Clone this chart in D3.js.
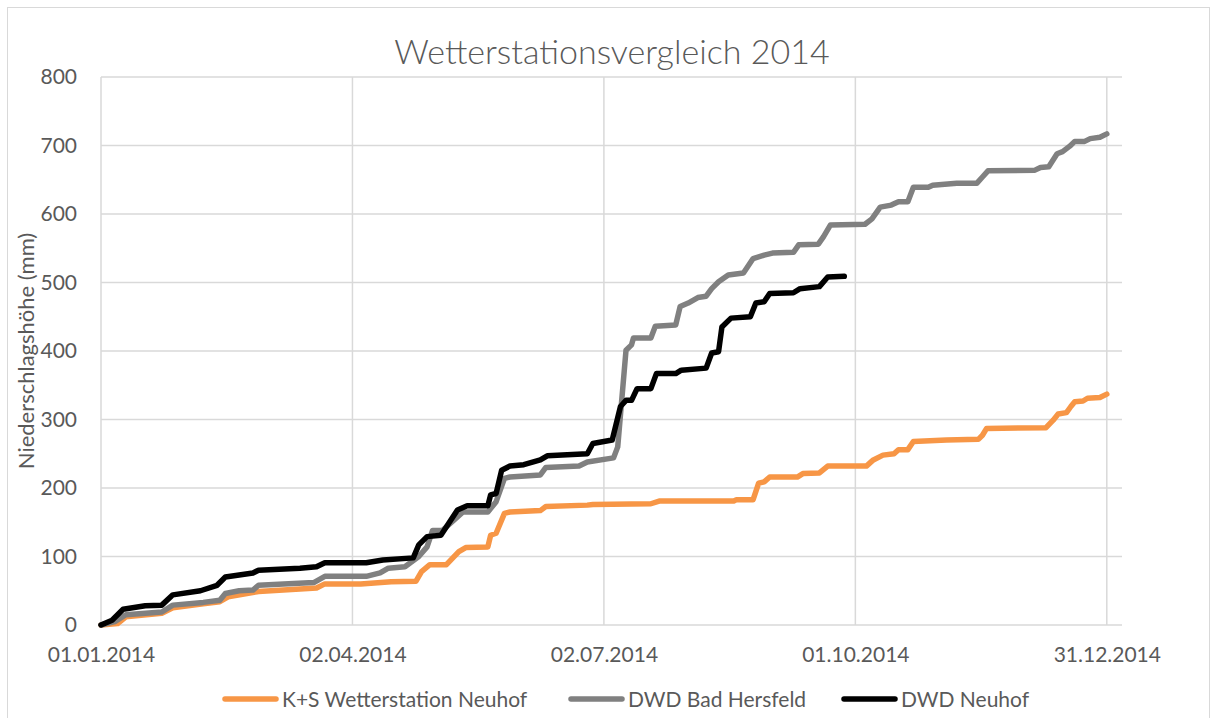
<!DOCTYPE html>
<html>
<head>
<meta charset="utf-8">
<script src="https://cdn.jsdelivr.net/npm/d3@7"></script>
<style>
  body { margin: 0; background: #fff; }
  text { font-family: Lato, "Open Sans", sans-serif; fill: #595959; }
</style>
</head>
<body>
<script>

// data: day offset from 01.01.2014, cumulative precipitation (mm)

const seriesNames = ["K+S Wetterstation Neuhof", "DWD Bad Hersfeld", "DWD Neuhof"];
const seriesColors = ["#f79646", "#808080", "#000000"];

const ksNeuhof = [[0,0],[6,2],[9,12],[22,17],[26,25],[37,31],[43,34],[46,41],[57,49],[78,54],[81,60],
  [94,60],[105,63],[114,64],[116,78],[119,88],[125,88],[129.5,107],[132,113],[140,114],[141,131],[143,134],
  [146,163],[148,165],[159,167],[161,173],[176,175],[178,176],[199,177],[202,181],[229,181],[230,183],
  [236,183],[238,207],[240,209],[242,216],[252,216],[254,221],[260,222],[263,232],[277,232],[279.5,241],
  [283,248],[287,250],[288.6,256],[292,256],[294,268],[306,270],[317.5,271],[319,277],[320.5,287],
  [342,288],[344.6,299],[346.4,308],[349.4,310],[351,319],[352.4,326],[355.4,327],[357,331],[361.5,332],[364,337]];

const dwdBadHersfeld = [[0,0],[5,5],[9,15],[22,19],[26,29],[37,33],[43,36],[45,46],[50,50],[55,51],[57,58],
  [77,62],[81,71],[96,71],[101,76],[104,83],[110,85],[115,100],[118,114],[120,138],[123.5,138],[127.7,153],
  [131,165],[140,165],[143,180],[146,214],[148,216],[159,219],[161,230],[173,232],[176,238],[185.5,244],
  [187,260],[190,401],[192,409],[192.7,419],[199,419],[200.6,436],[208,438],[209.6,465],[212.5,470],
  [216,478],[219,480],[221,491],[223.5,501],[227,511],[232.5,514],[236,535],[240,540],[243,543],
  [250.6,544],[252.5,555],[259.6,556],[261.5,567],[264,584],[276.5,585],[279,593],[282,610],[286,613],
  [288.6,618],[292,618],[294,639],[299.4,639],[301,642],[309.7,645],[317,645],[319,654],[321,663],
  [338,664],[340,668],[343,669],[346,688],[348,691],[350.6,699],[352.4,706],[356,706],[358,710],[361.5,712],[364,717]];

const dwdNeuhof = [[0,0],[4,7],[8,23],[16,28],[22,29],[26,44],[36,50],[42,58],[45,70],[55,76],[57,80],
  [72,83],[78,85],[81,91],[96,91],[102,95],[113,98],[115,117],[118,129],[123,131],[129,168],[132.5,174],
  [140,174],[141,190],[143,192],[145,226],[148,232],[153,234],[159,241],[161.5,247],[176,250],[178,265],
  [185,270],[188,319],[190,328],[192,328],[194,345],[199,345],[201,367],[208,367],[210,372],[219,375],
  [221,397],[223.5,399],[224.7,435],[228,448],[235,450],[237,470],[240,472],[242,484],[250.6,485],
  [253,491],[260,494],[263,508],[269,509]];

const xTickLabels = ["01.01.2014", "02.04.2014", "02.07.2014", "01.10.2014", "31.12.2014"];
const yTicks = [0, 100, 200, 300, 400, 500, 600, 700, 800];

const start = new Date(2014, 0, 1);
const dayToDate = d => new Date(start.getTime() + d * 864e5);
const parseTick = d3.timeParse("%d.%m.%Y");
const fmtTick = d3.timeFormat("%d.%m.%Y");

const w = 1213, h = 718;
const margin = {top: 77, right: 91, bottom: 93, left: 101};
const fontSize = 21;

const svg = d3.select("body").append("svg")
    .attr("width", w)
    .attr("height", h);

// chart border
svg.append("rect")
    .attr("x", 7.5).attr("y", 7.5)
    .attr("width", 1202).attr("height", 720)
    .attr("fill", "#fff")
    .attr("stroke", "#d9d9d9");

const xScale = d3.scaleTime()
    .domain([start, dayToDate(369.5)])
    .range([margin.left, w - margin.right]);

const yScale = d3.scaleLinear()
    .domain([0, 800])
    .range([h - margin.bottom, margin.top]);

// gridlines
const grid = svg.append("g").attr("class", "grid");
grid.selectAll(".hgrid")
  .data(yTicks)
  .enter().append("line")
    .attr("x1", margin.left).attr("x2", w - margin.right)
    .attr("y1", d => yScale(d)).attr("y2", d => yScale(d))
    .attr("stroke", "#d9d9d9")
    .attr("stroke-width", 1.5);

grid.selectAll(".vgrid")
  .data(xTickLabels.map(parseTick))
  .enter().append("line")
    .attr("x1", d => xScale(d)).attr("x2", d => xScale(d))
    .attr("y1", yScale(0)).attr("y2", yScale(800))
    .attr("stroke", "#d9d9d9")
    .attr("stroke-width", 1.5);

// axes
const xAxis = d3.axisBottom(xScale)
    .tickValues(xTickLabels.map(parseTick))
    .tickFormat(fmtTick)
    .tickSize(0)
    .tickPadding(22);

const yAxis = d3.axisLeft(yScale)
    .tickValues(yTicks)
    .tickSize(0)
    .tickPadding(24);

svg.append("g")
    .attr("class", "xAxis")
    .attr("transform", `translate(0, ${yScale(0)})`)
    .call(xAxis)
    .call(g => g.select(".domain").remove())
    .selectAll("text")
      .attr("font-size", fontSize)
      .attr("fill", "#595959");

svg.append("g")
    .attr("class", "yAxis")
    .attr("transform", `translate(${margin.left}, 0)`)
    .call(yAxis)
    .call(g => g.select(".domain").remove())
    .selectAll("text")
      .attr("font-size", fontSize)
      .attr("fill", "#595959");

svg.selectAll(".tick text").style("font-family", "Lato, sans-serif");

// lines
const line = d3.line()
    .x(d => xScale(dayToDate(d[0])))
    .y(d => yScale(d[1]));

[ksNeuhof, dwdBadHersfeld, dwdNeuhof].forEach((s, i) => {
  svg.append("path")
      .datum(s)
      .attr("d", line)
      .attr("fill", "none")
      .attr("stroke", seriesColors[i])
      .attr("stroke-width", 5.5)
      .attr("stroke-linejoin", "round")
      .attr("stroke-linecap", "round");
});

// title
svg.append("text")
    .attr("x", 612)
    .attr("y", 64)
    .attr("text-anchor", "middle")
    .attr("font-size", 34)
    .attr("font-weight", 300)
    .text("Wetterstationsvergleich 2014");

// y axis title
svg.append("text")
    .attr("transform", `translate(34, ${(yScale(0) + yScale(800)) / 2}) rotate(-90)`)
    .attr("text-anchor", "middle")
    .attr("font-size", 22)
    .text("Niederschlagshöhe (mm)");

// legend
const legendX = [223, 569, 842];
const legend = svg.append("g").attr("class", "legend");
seriesNames.forEach((name, i) => {
  legend.append("line")
      .attr("x1", legendX[i] + 2).attr("x2", legendX[i] + 53)
      .attr("y1", 699).attr("y2", 699)
      .attr("stroke", seriesColors[i])
      .attr("stroke-width", 5.5)
      .attr("stroke-linecap", "round");
  legend.append("text")
      .attr("x", legendX[i] + 59)
      .attr("y", 706.5)
      .attr("font-size", fontSize)
      .text(name);
});

</script>
</body>
</html>
